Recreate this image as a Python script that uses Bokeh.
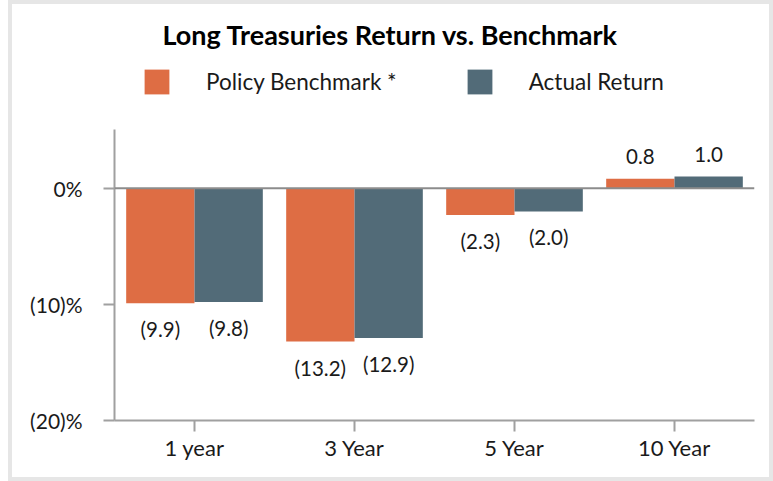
from bokeh.plotting import figure
from bokeh.layouts import column
from bokeh.models import (Range1d, FactorRange, FixedTicker, Span, Legend,
                          LegendItem, ColumnDataSource, Label)
from bokeh.transform import dodge
from bokeh.embed import file_html
from bokeh.resources import INLINE

# ---- data ----
categories = ["1 year", "3 Year", "5 Year", "10 Year"]
policy_benchmark = [-9.9, -13.2, -2.3, 0.8]
actual_return = [-9.8, -12.9, -2.0, 1.0]
series_names = ["Policy Benchmark *", "Actual Return"]
y_ticks = [-20, -10, 0]
y_tick_labels = ["(20)%", "(10)%", "0%"]
title_text = "Long Treasuries Return vs. Benchmark"

ORANGE = "#DE6D44"
SLATE = "#526B78"
TXT = "#1a1a1a"
FONT = "Lato"
BORDER = "4px solid #e6e6e6"


def fmt(v):
    return f"({abs(v):.1f})" if v < 0 else f"{v:.1f}"


def offs(v):
    return 26 if v < 0 else -22


src = ColumnDataSource(dict(
    cat=categories,
    pol=policy_benchmark,
    act=actual_return,
    pol_lbl=[fmt(v) for v in policy_benchmark],
    act_lbl=[fmt(v) for v in actual_return],
    pol_off=[offs(v) for v in policy_benchmark],
    act_off=[offs(v) for v in actual_return],
))

FL, FW, FR = 102, 640, 15   # frame left border / width / right border (px)
FR_EXTRA = 8                # compensates the layout's extra width
HH = 121                    # header canvas height
FIG_W = FL + FW + FR + 8

# ---------------- header (title + legend) ----------------
hdr = figure(width=FIG_W, height=HH + 4,
             x_range=Range1d(0, FW), y_range=Range1d(HH, 0),
             x_axis_type=None, y_axis_type=None,
             min_border_left=FL, min_border_right=FR + FR_EXTRA,
             min_border_top=0, min_border_bottom=0,
             outline_line_color=None,
             output_backend="svg", toolbar_location=None,
             styles={"border": BORDER, "border-bottom": "none"})
hdr.xgrid.visible = False
hdr.ygrid.visible = False

hdr.add_layout(Label(x=276, y=29, text=title_text,
                     text_align="center", text_baseline="middle",
                     text_font=FONT, text_font_style="bold",
                     text_font_size="27px", text_color="black"))

# legend-only renderers (zero width, outside the header's range)
d1 = hdr.vbar(x="pol", top="pol", width=0, source=src, fill_color=ORANGE, line_color=None)
d2 = hdr.vbar(x="act", top="act", width=0, source=src, fill_color=SLATE, line_color=None)
legend = Legend(items=[LegendItem(label=series_names[0], renderers=[d1]),
                       LegendItem(label=series_names[1], renderers=[d2])],
                location=(27, 32), orientation="horizontal",
                glyph_width=31, glyph_height=31, label_height=31,
                label_standoff=34, spacing=67, padding=0, margin=0,
                border_line_color=None, background_fill_alpha=0,
                label_text_font=FONT, label_text_font_size="22.5px",
                label_text_color=TXT, label_text_baseline="middle")
hdr.add_layout(legend)

# ---------------- main chart ----------------
p = figure(
    x_range=FactorRange(*categories, range_padding=0),
    y_range=Range1d(-20, 5.05),
    width=FIG_W, height=352 + 4,
    min_border_left=FL, min_border_right=FR + FR_EXTRA,
    min_border_top=4, min_border_bottom=61,
    output_backend="svg", toolbar_location=None,
    background_fill_color="white", border_fill_color="white",
    outline_line_color=None,
    styles={"border": BORDER, "border-top": "none"},
)
p.xgrid.visible = False
p.ygrid.visible = False

OFF = 0.2135
W = 0.427
p.vbar(x=dodge("cat", -OFF, range=p.x_range), top="pol", bottom=0, width=W,
       source=src, fill_color=ORANGE, line_color=None)
p.vbar(x=dodge("cat", OFF, range=p.x_range), top="act", bottom=0, width=W,
       source=src, fill_color=SLATE, line_color=None)

p.add_layout(Span(location=0, dimension="width", line_color="#8c8c8c", line_width=2))

for col, lbl, off, sign in [("pol", "pol_lbl", "pol_off", -OFF), ("act", "act_lbl", "act_off", OFF)]:
    p.text(x=dodge("cat", sign, range=p.x_range), y=col, text=lbl, y_offset=off,
           source=src, text_align="center", text_baseline="middle",
           text_font_size="20.5px", text_color=TXT, text_font={"value": FONT})

p.yaxis.ticker = FixedTicker(ticks=y_ticks)
p.yaxis.major_label_overrides = {t: l for t, l in zip(y_ticks, y_tick_labels)}
p.yaxis.minor_tick_line_color = None
for ax in (p.xaxis, p.yaxis):
    ax.axis_line_color = "#a0a0a0"
    ax.axis_line_width = 2
    ax.major_tick_line_color = "#a0a0a0"
    ax.major_tick_line_width = 2
    ax.major_tick_out = 11
    ax.major_tick_in = 0
    ax.major_label_text_font = FONT
    ax.major_label_text_color = TXT
p.yaxis.major_label_text_font_size = "21px"
p.xaxis.major_label_text_font_size = "22px"
p.yaxis.major_label_standoff = 21
p.xaxis.major_label_standoff = 2

layout = column(hdr, p, spacing=0, styles={"margin-left": "8px"})

open("out.html", "w").write(file_html(layout, INLINE))
